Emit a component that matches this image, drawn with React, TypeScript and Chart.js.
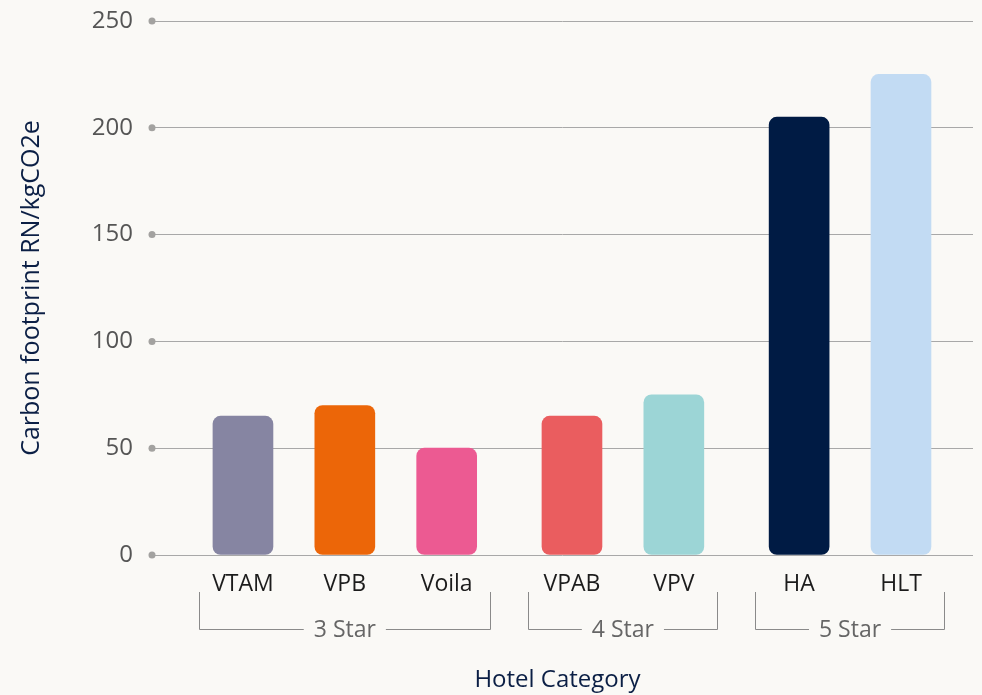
import React, { useEffect, useRef } from "react";
import { Chart, registerables } from "chart.js";

Chart.register(...registerables);

const hotels = ["VTAM", "VPB", "Voila", "VPAB", "VPV", "HA", "HLT"];
const groupOf = [0, 0, 0, 1, 1, 2, 2];
const groups = ["3 Star", "4 Star", "5 Star"];
const footprint = [65, 70, 50, 65, 75, 205, 225];
const barColors = ["#8685a2", "#ec6608", "#ec5a92", "#ea5d5f", "#9cd5d6", "#001b44", "#c2dbf3"];
const yTicks = [0, 50, 100, 150, 200, 250];
const GROUP_GAP = 0.23;

const FONT = "'Open Sans', sans-serif";
const BG = "#faf9f6";

export default function App() {
  const ref = useRef<HTMLCanvasElement>(null);
  useEffect(() => {
    document.body.style.margin = "0";
    document.body.style.background = BG;
    const xs = hotels.map((_, i) => i + groupOf[i] * GROUP_GAP);
    const BAR_W = 60;

    const overlay = {
      id: "overlay",
      beforeDraw(chart: any) {
        const { ctx, width, height } = chart;
        ctx.save();
        ctx.fillStyle = BG;
        ctx.fillRect(0, 0, width, height);
        ctx.restore();
      },
      afterDraw(chart: any) {
        const { ctx, chartArea, scales } = chart;
        const x = scales.x;
        const y = scales.y;
        ctx.save();
        ctx.fillStyle = "#a3a2a0";
        yTicks.forEach((t) => {
          ctx.beginPath();
          ctx.arc(chartArea.left, y.getPixelForValue(t), 3.5, 0, Math.PI * 2);
          ctx.fill();
        });
        ctx.font = `23px ${FONT}`;
        ctx.fillStyle = "#1c1c1c";
        ctx.textAlign = "center";
        ctx.textBaseline = "middle";
        hotels.forEach((h, i) => {
          ctx.fillText(h, x.getPixelForValue(xs[i]), chartArea.bottom + 29);
        });
        const by = chartArea.bottom + 74;
        const topY = chartArea.bottom + 37;
        ctx.strokeStyle = "#8a8a8a";
        ctx.lineWidth = 1;
        groups.forEach((g, gi) => {
          const idx = hotels.map((_, i) => i).filter((i) => groupOf[i] === gi);
          const l = x.getPixelForValue(xs[idx[0]]) - BAR_W / 2 - 14;
          const r = x.getPixelForValue(xs[idx[idx.length - 1]]) + BAR_W / 2 + 14;
          const c = (l + r) / 2;
          const tw = ctx.measureText(g).width;
          ctx.beginPath();
          ctx.moveTo(Math.round(l) + 0.5, topY);
          ctx.lineTo(Math.round(l) + 0.5, by + 0.5);
          ctx.lineTo(c - tw / 2 - 10, by + 0.5);
          ctx.moveTo(c + tw / 2 + 10, by + 0.5);
          ctx.lineTo(Math.round(r) - 0.5, by + 0.5);
          ctx.lineTo(Math.round(r) - 0.5, topY);
          ctx.stroke();
          ctx.fillStyle = "#666666";
          ctx.fillText(g, c, by + 1);
        });
        ctx.fillStyle = "#0b1f45";
        ctx.font = `24px ${FONT}`;
        ctx.fillText("Hotel Category", (chartArea.left + chartArea.right) / 2 - 5, 680);
        ctx.save();
        ctx.translate(32, (chartArea.top + chartArea.bottom) / 2);
        ctx.rotate(-Math.PI / 2);
        ctx.font = `25px ${FONT}`;
        ctx.fillText("Carbon footprint RN/kgCO2e", 0, 0);
        ctx.restore();
        ctx.restore();
      },
    };

    const chart = new Chart(ref.current!, {
      type: "bar",
      data: {
        datasets: [
          {
            data: footprint.map((v, i) => ({ x: xs[i], y: v })),
            backgroundColor: barColors,
            barThickness: BAR_W,
            borderRadius: 8,
            borderSkipped: false,
          },
        ],
      },
      options: {
        animation: false,
        responsive: true,
        maintainAspectRatio: false,
        layout: { padding: { top: 21, bottom: 140, right: 9, left: 0 } },
        plugins: { legend: { display: false }, tooltip: { enabled: false } },
        scales: {
          x: {
            type: "linear",
            display: false,
            offset: false,
            min: -0.893,
            max: 7.167,
          },
          y: {
            min: 0,
            max: 250,
            afterFit: (s: any) => {
              s.width = 152;
              s.paddingTop = 0;
              s.paddingBottom = 0;
            },
            afterBuildTicks: (s: any) => {
              s.ticks = yTicks.map((v) => ({ value: v }));
            },
            border: { display: false },
            grid: { color: "#a8a8a8", lineWidth: 1, drawTicks: false },
            ticks: {
              padding: 19,
              color: "#555555",
              font: { family: FONT, size: 24 },
            },
          },
        },
      } as any,
      plugins: [overlay],
    });
    return () => chart.destroy();
  }, []);
  return (
    <div style={{ width: 982, height: 695, position: "relative" }}>
      <canvas ref={ref} />
    </div>
  );
}
